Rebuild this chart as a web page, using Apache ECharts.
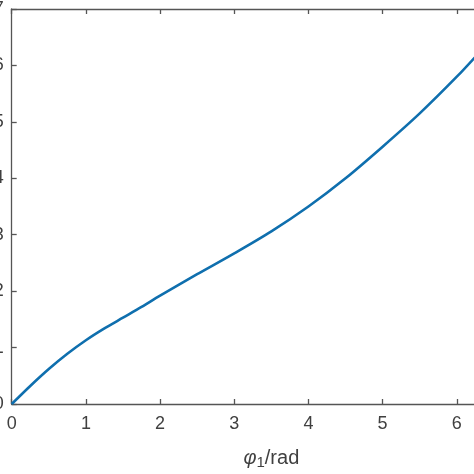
<!DOCTYPE html>
<html>
<head>
<meta charset="utf-8">
<script src="https://cdn.jsdelivr.net/npm/echarts@6/dist/echarts.min.js"></script>
<style>html,body{margin:0;padding:0;background:#fff}#c{width:474px;height:474px}</style>
</head>
<body>
<div id="c"></div>
<script>
const phi1 = [0, 0.25, 0.5, 0.75, 1.0, 1.25, 1.5, 1.75, 2.0, 2.5, 3.0, 3.5, 4.0, 4.5, 5.0, 5.5, 6.0, 6.283];
const phi2 = [0, 0.32, 0.62, 0.89, 1.13, 1.34, 1.53, 1.72, 1.92, 2.30, 2.67, 3.06, 3.50, 4.00, 4.56, 5.15, 5.80, 6.20];
const xTicks = [0, 1, 2, 3, 4, 5, 6, 7];
const yTicks = [0, 1, 2, 3, 4, 5, 6, 7];

const axisColor = '#555';
const labelColor = '#404040';
const font = 'Liberation Sans, Arial, sans-serif';
const chart = echarts.init(document.getElementById('c'));
chart.setOption({
  animation: false,
  grid: { left: 11.7, top: 9, right: -57, bottom: 70, containLabel: false, outerBoundsMode: 'none' },
  xAxis: [{
    type: 'value', min: xTicks[0], max: xTicks[xTicks.length - 1], interval: 1,
    position: 'bottom',
    axisLine: { lineStyle: { color: axisColor, width: 1.3 } },
    axisTick: { inside: true, length: 5, lineStyle: { color: axisColor, width: 1.3 } },
    splitLine: { show: false },
    axisLabel: { color: labelColor, fontSize: 18, fontFamily: font, margin: 11 },
    name: '{i|φ}{s|1}{n|/rad}',
    nameLocation: 'middle', nameGap: 42,
    nameTextStyle: {
      rich: {
        i: { fontStyle: 'italic', fontSize: 20, color: labelColor, fontFamily: font },
        s: { fontSize: 15, color: labelColor, verticalAlign: 'bottom', padding: [9, 0, 0, 0], fontFamily: font },
        n: { fontSize: 20, color: labelColor, fontFamily: font }
      }
    }
  }, {
    type: 'value', min: xTicks[0], max: xTicks[xTicks.length - 1], interval: 1,
    position: 'top',
    axisLine: { show: true, lineStyle: { color: axisColor, width: 1.3 } },
    axisTick: { show: true, inside: true, length: 5, lineStyle: { color: axisColor, width: 1.3 } },
    splitLine: { show: false },
    axisLabel: { show: false }
  }],
  yAxis: [{
    type: 'value', min: yTicks[0], max: yTicks[yTicks.length - 1], interval: 1,
    position: 'left',
    axisLine: { show: true, lineStyle: { color: axisColor, width: 1.3 } },
    axisTick: { show: true, inside: true, length: 5, lineStyle: { color: axisColor, width: 1.3 } },
    splitLine: { show: false },
    axisLabel: { color: labelColor, fontSize: 18, fontFamily: font, margin: 8 }
  }],
  series: [{
    type: 'line',
    data: phi1.map((x, i) => [x, phi2[i]]),
    smooth: 0.3,
    showSymbol: false,
    lineStyle: { color: '#0f6fae', width: 2.6 },
    clip: true
  }]
});
</script>
</body>
</html>
